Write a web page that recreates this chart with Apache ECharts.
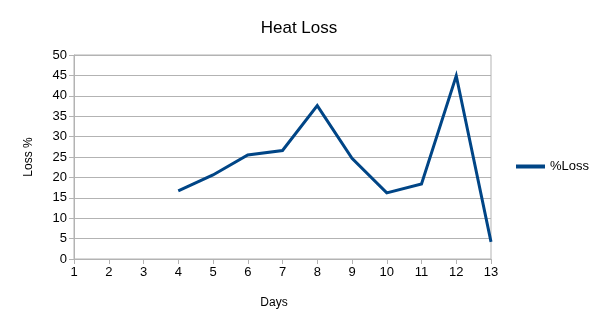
<!DOCTYPE html>
<html>
<head>
<meta charset="utf-8">
<script src="https://cdn.jsdelivr.net/npm/echarts@6/dist/echarts.min.js"></script>
<style>
html,body{margin:0;padding:0;background:#fff;}
#chart{width:603px;height:328px;}
</style>
</head>
<body>
<div id="chart"></div>
<script>
// Days on the horizontal axis
const days = ['1','2','3','4','5','6','7','8','9','10','11','12','13'];
// Heat loss per day (%); no readings for days 1-3
const lossPct = [null, null, null, 16.7, 20.6, 25.5, 26.6, 37.6, 24.7, 16.2, 18.4, 44.9, 4.2];
const seriesName = '%Loss';

const font = 'Liberation Sans, Arial, sans-serif';
const chart = echarts.init(document.getElementById('chart'), null, {renderer: 'canvas'});
chart.setOption({
  animation: false,
  backgroundColor: '#fff',
  title: {
    text: 'Heat Loss',
    left: 294,
    textAlign: 'center',
    top: 15,
    textStyle: {fontFamily: font, fontSize: 17, fontWeight: 'normal', color: '#000'}
  },
  legend: {
    data: [seriesName],
    left: 511,
    top: 155,
    itemWidth: 29,
    itemHeight: 4,
    itemGap: 5,
    icon: 'rect',
    textStyle: {fontFamily: font, fontSize: 13, color: '#000'}
  },
  grid: {
    left: 74, right: 112, top: 55, bottom: 69,
    show: true, borderColor: '#b3b3b3', borderWidth: 1
  },
  xAxis: {
    type: 'category',
    data: days,
    boundaryGap: false,
    name: 'Days',
    nameLocation: 'middle',
    nameGap: 38,
    nameTextStyle: {fontFamily: font, fontSize: 12, color: '#000', padding: [0, 17, 0, 0]},
    axisLine: {lineStyle: {color: '#b3b3b3'}},
    axisTick: {show: true, inside: false, length: 5, lineStyle: {color: '#b3b3b3'}},
    axisLabel: {fontFamily: font, fontSize: 13, color: '#000', margin: 7},
    splitLine: {show: false}
  },
  yAxis: {
    type: 'value',
    min: 0, max: 50, interval: 5,
    name: 'Loss %',
    nameLocation: 'middle',
    nameGap: 39,
    nameRotate: 90,
    nameTextStyle: {fontFamily: font, fontSize: 12, color: '#000'},
    axisLine: {show: true, lineStyle: {color: '#b3b3b3'}},
    axisTick: {show: true, length: 5, lineStyle: {color: '#b3b3b3'}},
    axisLabel: {fontFamily: font, fontSize: 13, color: '#000', margin: 7},
    splitLine: {show: true, lineStyle: {color: '#b3b3b3', width: 1}}
  },
  series: [{
    name: seriesName,
    type: 'line',
    data: lossPct,
    symbol: 'none',
    connectNulls: false,
    lineStyle: {color: '#004586', width: 3, join: 'miter'},
    itemStyle: {color: '#004586'}
  }]
});
</script>
</body>
</html>
